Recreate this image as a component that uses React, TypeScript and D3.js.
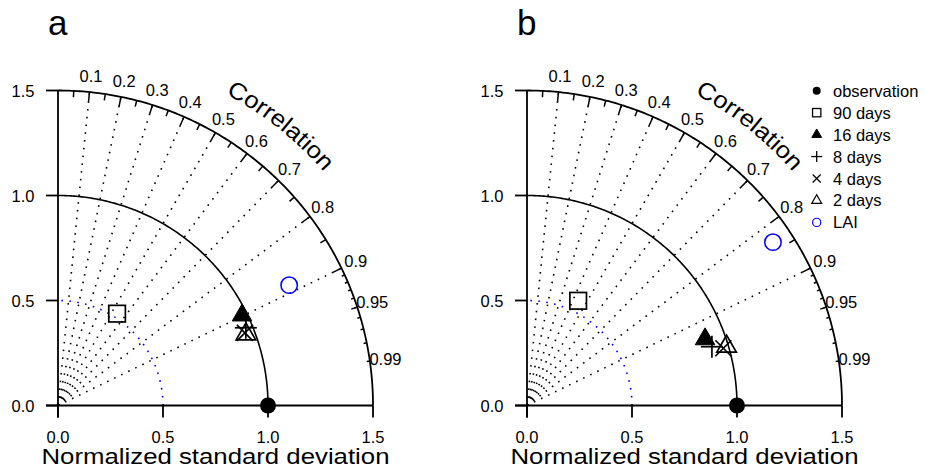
import React from "react";
import * as d3 from "d3";

// ---------- data ----------
const seriesLabels = ["observation", "90 days", "16 days", "8 days", "4 days", "2 days", "LAI"];
const seriesSymbols = ["dot", "square", "triFill", "plus", "cross", "triOpen", "circle"];
const seriesColors = ["#000", "#000", "#000", "#000", "#000", "#000", "#0000ff"];

// panel a: normalized standard deviation and correlation
const sdA = [1.0, 0.52, 0.976, 0.968, 0.955, 0.957, 1.241];
const corA = [1.0, 0.541, 0.898, 0.924, 0.932, 0.935, 0.887];
// panel b
const sdB = [1.0, 0.555, 0.905, 0.924, 0.974, 0.991, 1.406];
const corB = [1.0, 0.439, 0.937, 0.953, 0.96, 0.959, 0.833];

const sdTicks = [0, 0.5, 1.0, 1.5];
const sdTickLabels = ["0.0", "0.5", "1.0", "1.5"];
const corLabelTicks = [0.1, 0.2, 0.3, 0.4, 0.5, 0.6, 0.7, 0.8, 0.9, 0.95, 0.99];
const corBigTicks = [0.1, 0.2, 0.3, 0.4, 0.5, 0.6, 0.7, 0.8, 0.9];
const corMedTicks = [0.05, 0.15, 0.25, 0.35, 0.45, 0.55, 0.65, 0.75, 0.85, 0.95];
const corSmallTicks = [0.91, 0.92, 0.93, 0.94, 0.95, 0.96, 0.97, 0.98, 0.99];
const corGridLines = [0.1, 0.2, 0.3, 0.4, 0.5, 0.6, 0.7, 0.8, 0.9];
const refSd = 1.0;
const rmsArc = 0.5;
const maxSd = 1.5;

const FONT = "'Liberation Sans', Arial, Helvetica, sans-serif";

function Marker({ x, y, sym, color, s = 1 }: { x: number; y: number; sym: string; color: string; s?: number }) {
  const sw = 1.7 * Math.max(s, 0.75);
  if (sym === "dot") return <circle cx={x} cy={y} r={8 * s} fill={color} />;
  if (sym === "circle") return <circle cx={x} cy={y} r={8.2 * s} fill="none" stroke={color} strokeWidth={sw * 0.9} />;
  if (sym === "square") {
    const h = 8.3 * s;
    return <rect x={x - h} y={y - h} width={2 * h} height={2 * h} fill="none" stroke={color} strokeWidth={sw} />;
  }
  if (sym === "triFill" || sym === "triOpen") {
    const r = 11.3 * s;
    const xc = r * 0.866;
    const pts = `${x},${y - r} ${x + xc},${y + r / 2} ${x - xc},${y + r / 2}`;
    return sym === "triFill" ? (
      <polygon points={pts} fill={color} stroke={color} strokeWidth={1} />
    ) : (
      <polygon points={pts} fill="none" stroke={color} strokeWidth={sw} />
    );
  }
  if (sym === "plus") {
    const h = 11 * s;
    return (
      <g stroke={color} strokeWidth={sw}>
        <line x1={x - h} y1={y} x2={x + h} y2={y} />
        <line x1={x} y1={y - h} x2={x} y2={y + h} />
      </g>
    );
  }
  if (sym === "cross") {
    const h = 8 * s;
    return (
      <g stroke={color} strokeWidth={sw}>
        <line x1={x - h} y1={y - h} x2={x + h} y2={y + h} />
        <line x1={x - h} y1={y + h} x2={x + h} y2={y - h} />
      </g>
    );
  }
  return null;
}

function Panel({ ox, oy, letter, sd, cor, legend, id }: { ox: number; oy: number; letter: string; sd: number[]; cor: number[]; legend: boolean; id: string }) {
  const r = d3.scaleLinear().domain([0, maxSd]).range([0, 315]);
  const px = (s: number, c: number) => ox + r(s) * c;
  const py = (s: number, c: number) => oy - r(s) * Math.sqrt(Math.max(0, 1 - c * c));
  const arcLine = (rad: number) =>
    d3
      .line<number>()
      .x((a) => ox + r(rad) * Math.cos(a))
      .y((a) => oy - r(rad) * Math.sin(a))(d3.range(0, Math.PI / 2 + 0.001, Math.PI / 360).concat([Math.PI / 2])) as string;

  const tickSeg = (c: number, frac: number, k: string) => (
    <line key={k} x1={px(maxSd, c)} y1={py(maxSd, c)} x2={px(maxSd * frac, c)} y2={py(maxSd * frac, c)} stroke="#000" strokeWidth={1.5} />
  );

  // Correlation label path
  const Rt = 354;
  const mid = (51.5 * Math.PI) / 180;
  const a1 = mid + (22 * Math.PI) / 180;
  const a2 = mid - (22 * Math.PI) / 180;
  const pathD = `M ${ox + Rt * Math.cos(a1)} ${oy - Rt * Math.sin(a1)} A ${Rt} ${Rt} 0 0 1 ${ox + Rt * Math.cos(a2)} ${oy - Rt * Math.sin(a2)}`;

  const legendY0 = 90.7;
  const legendDy = 21.95;

  return (
    <g fontFamily={FONT}>
      <text x={ox - 10} y={35} fontSize={35}>{letter}</text>

      {/* dotted correlation lines */}
      {corGridLines.map((c) => (
        <line key={"g" + c} x1={ox} y1={oy} x2={px(maxSd, c)} y2={py(maxSd, c)} stroke="#000" strokeWidth={1.6} strokeDasharray="1.6 6.2" />
      ))}
      {/* blue dotted arc */}
      <path d={arcLine(rmsArc)} fill="none" stroke="#0000ff" strokeWidth={1.6} strokeDasharray="1.6 6.4" />
      {/* reference sd arc */}
      <path d={arcLine(refSd)} fill="none" stroke="#000" strokeWidth={1.6} />
      {/* outer arc */}
      <path d={arcLine(maxSd)} fill="none" stroke="#000" strokeWidth={1.8} />

      {corBigTicks.map((c) => tickSeg(c, 0.97, "b" + c))}
      {corMedTicks.map((c) => tickSeg(c, 0.98, "m" + c))}
      {corSmallTicks.map((c) => tickSeg(c, 0.99, "s" + c))}

      {corLabelTicks.map((c) => (
        <text key={"l" + c} x={px(maxSd * 1.05, c)} y={py(maxSd * 1.05, c)} fontSize={16.5} textAnchor="middle" dominantBaseline="central">
          {String(c)}
        </text>
      ))}

      <path id={id} d={pathD} fill="none" stroke="none" />
      <text fontSize={23.5}>
        <textPath href={"#" + id} startOffset="50%" textAnchor="middle" textLength={126} lengthAdjust="spacingAndGlyphs">
          Correlation
        </textPath>
      </text>

      {/* axes */}
      <line x1={ox} y1={oy + 12} x2={ox} y2={oy - r(maxSd)} stroke="#000" strokeWidth={1.8} />
      <line x1={ox - 12} y1={oy} x2={ox + r(maxSd)} y2={oy} stroke="#000" strokeWidth={1.8} />
      {sdTicks.map((t, i) => (
        <g key={"y" + t}>
          <line x1={ox - 12} y1={oy - r(t)} x2={ox} y2={oy - r(t)} stroke="#000" strokeWidth={1.8} />
          <text x={ox - 23.5} y={oy - r(t)} fontSize={16.5} textAnchor="end" dominantBaseline="central">
            {sdTickLabels[i]}
          </text>
          <line x1={ox + r(t)} y1={oy} x2={ox + r(t)} y2={oy + 12} stroke="#000" strokeWidth={1.8} />
          <text x={ox + r(t)} y={443.3} fontSize={16.5} textAnchor="middle">
            {sdTickLabels[i]}
          </text>
        </g>
      ))}
      <text x={ox + r(maxSd) / 2} y={463.5} fontSize={22} textAnchor="middle" textLength={348} lengthAdjust="spacingAndGlyphs">
        Normalized standard deviation
      </text>

      {/* points */}
      {sd.map((s, i) => (
        <Marker key={"p" + i} x={px(s, cor[i])} y={py(s, cor[i])} sym={seriesSymbols[i]} color={seriesColors[i]} />
      ))}

      {legend &&
        seriesLabels.map((lab, i) => (
          <g key={"lg" + i}>
            <Marker x={816.7} y={legendY0 + i * legendDy} sym={seriesSymbols[i]} color={seriesColors[i]} s={0.5} />
            <text x={833} y={legendY0 + i * legendDy} fontSize={16.5} dominantBaseline="central">
              {lab}
            </text>
          </g>
        ))}
    </g>
  );
}

export default function App() {
  return (
    <svg width={925} height={470} style={{ position: "absolute", left: 0, top: 0, background: "#fff" }}>
      <rect width={925} height={470} fill="#fff" />
      <Panel ox={58} oy={405.5} letter="a" sd={sdA} cor={corA} legend={false} id="corA" />
      <Panel ox={527} oy={405.5} letter="b" sd={sdB} cor={corB} legend={true} id="corB" />
    </svg>
  );
}
